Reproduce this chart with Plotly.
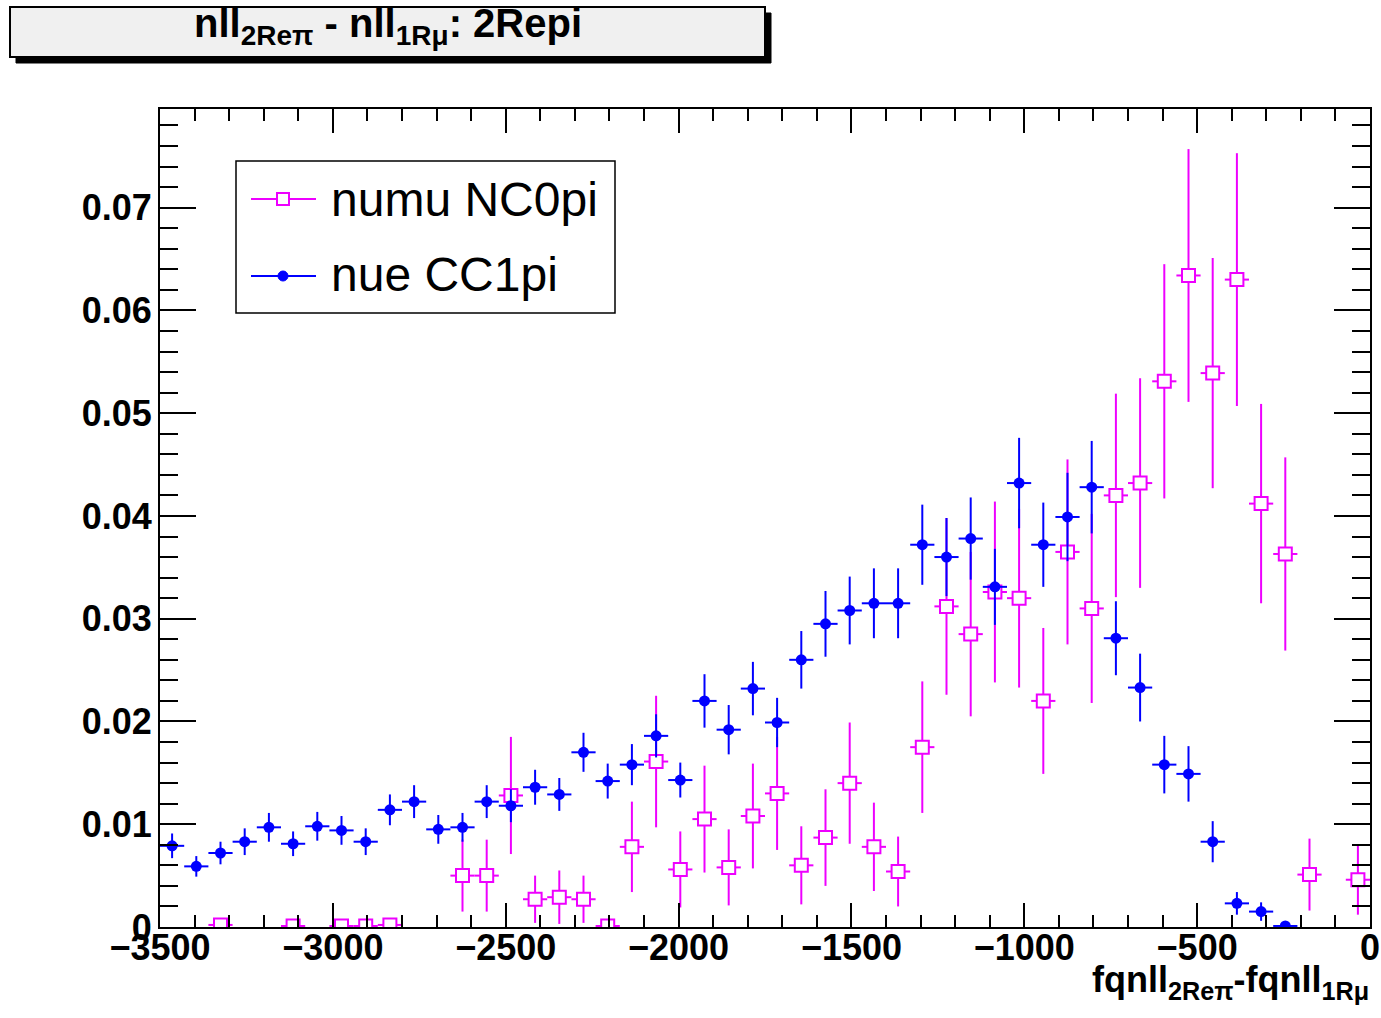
import plotly.graph_objects as go

# ---------------- data ----------------
bin_low = -3500
bin_width = 70
n_bins = 50
bin_centers = [bin_low + bin_width * (i + 0.5) for i in range(n_bins)]

# nue CC1pi (blue filled circles)
nue_values = [0.0079, 0.0059, 0.0072, 0.0083, 0.0097, 0.0081, 0.0098, 0.0094, 0.0083, 0.0114,
              0.0122, 0.0095, 0.0097, 0.0122, 0.0118, 0.0136, 0.0129, 0.0170, 0.0142, 0.0158,
              0.0186, 0.0143, 0.0220, 0.0192, 0.0232, 0.0199, 0.0260, 0.0295, 0.0308, 0.0315,
              0.0315, 0.0372, 0.0360, 0.0378, 0.0331, 0.0432, 0.0372, 0.0399, 0.0428, 0.0281,
              0.0233, 0.0158, 0.0149, 0.0083, 0.0023, 0.0015, 0.0001, None, None, None]
nue_errors = [0.0012, 0.0010, 0.0011, 0.0013, 0.0014, 0.0012, 0.0014, 0.0014, 0.0013, 0.0015,
              0.0016, 0.0014, 0.0014, 0.0016, 0.0016, 0.0017, 0.0016, 0.0019, 0.0017, 0.0020,
              0.0021, 0.0017, 0.0026, 0.0024, 0.0026, 0.0024, 0.0028, 0.0032, 0.0033, 0.0034,
              0.0034, 0.0039, 0.0038, 0.0040, 0.0037, 0.0044, 0.0041, 0.0043, 0.0045, 0.0036,
              0.0033, 0.0028, 0.0027, 0.0020, 0.0011, 0.0009, 0.0002, None, None, None]

# numu NC0pi (magenta open squares)
numu_values = [None, None, 0.0002, None, None, 0.0001, None, 0.0001, 0.0001, 0.0002,
               None, None, 0.0050, 0.0050, 0.0128, 0.0027, 0.0029, 0.0027, 0.0001, 0.0078,
               0.0161, 0.0056, 0.0105, 0.0058, 0.0108, 0.0130, 0.0060, 0.0087, 0.0140, 0.0078,
               0.0054, 0.0175, 0.0312, 0.0285, 0.0326, 0.0320, 0.0220, 0.0365, 0.0310, 0.0420,
               0.0432, 0.0531, 0.0634, 0.0539, 0.0630, 0.0412, 0.0363, 0.0051, None, 0.0046]
numu_errors = [None, None, 0.0, None, None, 0.0, None, 0.0, 0.0, 0.0,
               None, None, 0.0035, 0.0035, 0.0057, 0.0023, 0.0026, 0.0023, 0.0, 0.0044,
               0.0064, 0.0037, 0.0052, 0.0037, 0.0051, 0.0055, 0.0038, 0.0047, 0.0059, 0.0043,
               0.0034, 0.0064, 0.0086, 0.0080, 0.0088, 0.0087, 0.0071, 0.0090, 0.0092, 0.0099,
               0.0102, 0.0114, 0.0123, 0.0112, 0.0123, 0.0097, 0.0094, 0.0035, None, 0.0034]

x_ticks = [-3500, -3000, -2500, -2000, -1500, -1000, -500, 0]
y_ticks = [0, 0.01, 0.02, 0.03, 0.04, 0.05, 0.06, 0.07]
y_tick_text = ["0", "0.01", "0.02", "0.03", "0.04", "0.05", "0.06", "0.07"]

legend_labels = ["numu NC0pi", "nue CC1pi"]
title_text = "<b>nll<sub>2Reπ</sub> - nll<sub>1Rμ</sub>: 2Repi</b>"
xaxis_title = "<b>fqnll<sub>2Reπ</sub>-fqnll<sub>1Rμ</sub></b>"

MAGENTA = "#ee00ff"
BLUE = "#0000ff"
FONT = "Liberation Sans"

# ---------------- layout geometry ----------------
W, H = 1381, 1018
ML, MR, MT, MB = 160, 11, 109, 91
PLOT_BOTTOM = H - MB
PW = W - ML - MR
PH = H - MT - MB


def px(x):
    return (x - ML) / PW


def py(y):
    return (PLOT_BOTTOM - y) / PH


def pick(vals, errs):
    xs, ys, es = [], [], []
    for c, v, e in zip(bin_centers, vals, errs):
        if v is not None:
            xs.append(c)
            ys.append(v)
            es.append(e)
    return xs, ys, es


fig = go.Figure()

nx, ny, ne = pick(numu_values, numu_errors)
fig.add_trace(go.Scatter(
    x=nx, y=ny, mode="markers", name=legend_labels[0], showlegend=False,
    marker=dict(symbol="square", size=13, color="white", line=dict(color=MAGENTA, width=2)),
    error_y=dict(type="data", array=ne, visible=True, color=MAGENTA, thickness=2, width=0),
    error_x=dict(type="constant", value=bin_width / 2, visible=True, color=MAGENTA, thickness=2, width=0),
))

bx, by, be = pick(nue_values, nue_errors)
fig.add_trace(go.Scatter(
    x=bx, y=by, mode="markers", name=legend_labels[1], showlegend=False,
    marker=dict(symbol="circle", size=11, color=BLUE, line=dict(width=0)),
    error_y=dict(type="data", array=be, visible=True, color=BLUE, thickness=2, width=0),
    error_x=dict(type="constant", value=bin_width / 2, visible=True, color=BLUE, thickness=2, width=0),
))

shapes = []
# title box with shadow
shapes.append(dict(type="rect", xref="paper", yref="paper",
                   x0=px(16), x1=px(771), y0=py(63), y1=py(13),
                   fillcolor="black", line=dict(color="black", width=1)))
shapes.append(dict(type="rect", xref="paper", yref="paper",
                   x0=px(10), x1=px(765), y0=py(57), y1=py(7),
                   fillcolor="#f0f0f0", line=dict(color="black", width=2)))
# legend box
shapes.append(dict(type="rect", xref="paper", yref="paper",
                   x0=px(236), x1=px(615), y0=py(313), y1=py(161),
                   fillcolor="white", line=dict(color="black", width=1.5)))
# legend symbols
shapes.append(dict(type="line", xref="paper", yref="paper",
                   x0=px(251), x1=px(316), y0=py(199), y1=py(199),
                   line=dict(color=MAGENTA, width=2)))
shapes.append(dict(type="rect", xref="paper", yref="paper",
                   x0=px(277), x1=px(289), y0=py(205), y1=py(193),
                   fillcolor="white", line=dict(color=MAGENTA, width=2)))
shapes.append(dict(type="line", xref="paper", yref="paper",
                   x0=px(251), x1=px(316), y0=py(276), y1=py(276),
                   line=dict(color=BLUE, width=2)))
shapes.append(dict(type="circle", xref="paper", yref="paper",
                   x0=px(278), x1=px(288), y0=py(281), y1=py(271),
                   fillcolor=BLUE, line=dict(color=BLUE, width=1)))

annotations = [
    dict(text=title_text, xref="paper", yref="paper", x=px(388), y=py(26),
         xanchor="center", yanchor="middle", showarrow=False,
         font=dict(family=FONT, size=40, color="black")),
    dict(text=xaxis_title, xref="paper", yref="paper", x=px(1371), y=py(957),
         xanchor="right", yanchor="top", showarrow=False,
         font=dict(family=FONT, size=36, color="black")),
    dict(text=legend_labels[0], xref="paper", yref="paper", x=px(329), y=py(199),
         xanchor="left", yanchor="middle", showarrow=False,
         font=dict(family=FONT, size=48, color="black")),
    dict(text=legend_labels[1], xref="paper", yref="paper", x=px(329), y=py(274),
         xanchor="left", yanchor="middle", showarrow=False,
         font=dict(family=FONT, size=48, color="black")),
]

fig.update_layout(
    width=W, height=H, autosize=False,
    margin=dict(l=ML, r=MR, t=MT, b=MB, pad=0, autoexpand=False),
    paper_bgcolor="white", plot_bgcolor="white",
    showlegend=False,
    shapes=shapes,
    annotations=annotations,
    font=dict(family=FONT, color="black"),
)

fig.update_xaxes(
    range=[-3500, 0], tickvals=x_ticks, tickformat="d", automargin=False,
    showgrid=False, zeroline=False,
    showline=True, linecolor="black", linewidth=2, mirror="ticks",
    ticks="inside", ticklen=24, tickwidth=1.5, tickcolor="black",
    minor=dict(dtick=100, tick0=0, ticks="inside", ticklen=12, tickwidth=1.5, tickcolor="black", showgrid=False),
    tickfont=dict(family=FONT, size=36, color="black", weight="bold"),
    ticklabelstandoff=-12,
)
fig.update_yaxes(
    range=[0, 0.0796], tickvals=y_ticks, ticktext=y_tick_text, automargin=False,
    showgrid=False, zeroline=False,
    showline=True, linecolor="black", linewidth=2, mirror="ticks",
    ticks="inside", ticklen=36, tickwidth=1.5, tickcolor="black",
    minor=dict(dtick=0.002, tick0=0, ticks="inside", ticklen=18, tickwidth=1.5, tickcolor="black", showgrid=False),
    tickfont=dict(family=FONT, size=36, color="black", weight="bold"),
    ticklabelstandoff=-1,
)

fig.write_html("out.html", config={"responsive": False})
